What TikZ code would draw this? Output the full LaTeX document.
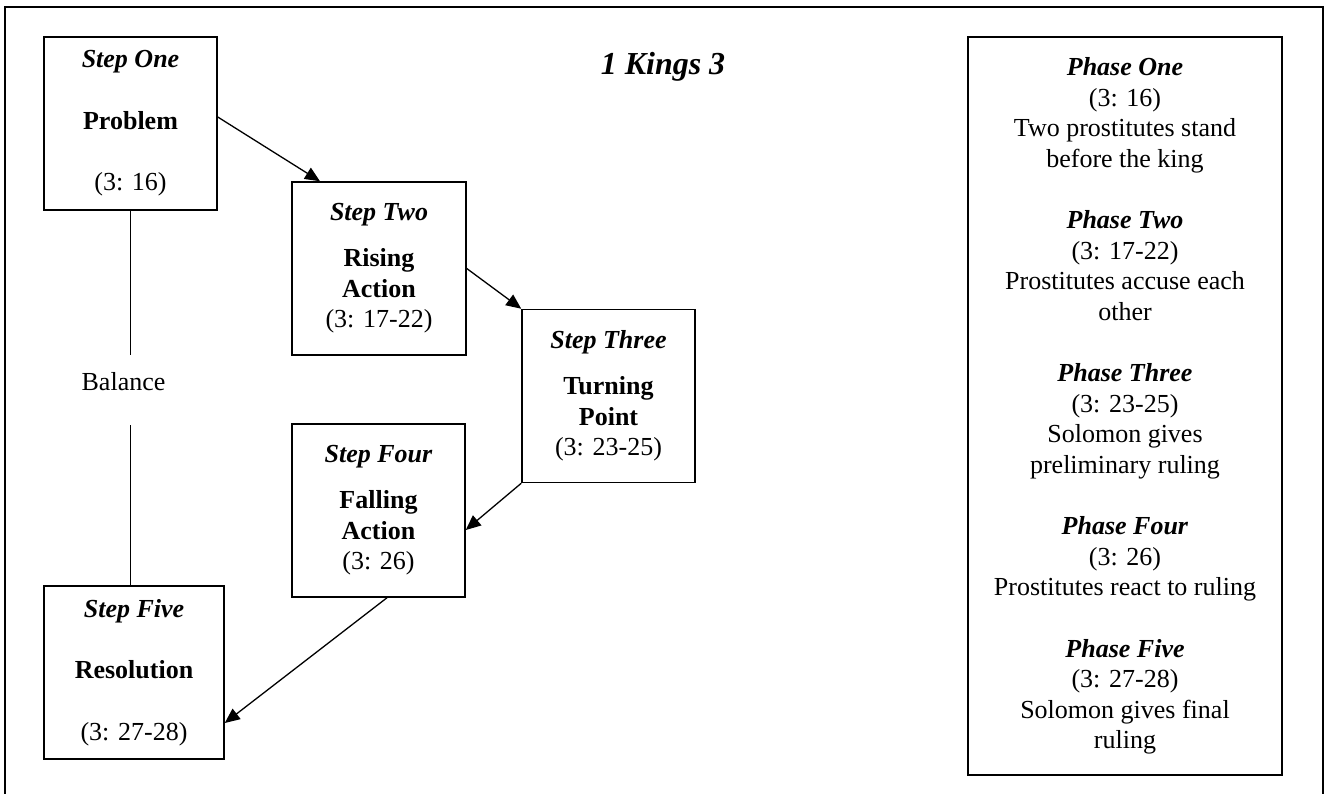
\documentclass[tikz,border=0pt]{standalone}
\usepackage{fontspec}
\setmainfont{Liberation Serif}
\usetikzlibrary{arrows.meta}
\tikzset{
  stepbox/.style={draw, line width=1.5pt, inner sep=0pt, minimum width=173pt, minimum height=173pt, align=center, font=\fontsize{26}{30.6}\selectfont},
  phasebox/.style={draw, line width=1.5pt, inner sep=0pt, minimum width=314pt, minimum height=738pt, align=center, font=\fontsize{26}{30.6}\selectfont},
  plain/.style={inner sep=0pt, font=\fontsize{26}{30.6}\selectfont},
  flow/.style={line width=1.3pt, -{Triangle[length=15pt,width=13pt]}},
  link/.style={line width=1.3pt},
  frame/.style={line width=1.3pt}
}
\newcommand{\sh}[1]{\textbf{\textit{#1}}}
\begin{document}
\begin{tikzpicture}[x=1pt,y=-1pt]
\useasboundingbox (0,0) rectangle (1328,794);
\draw[frame] (5,800) -- (5,7) -- (1323,7) -- (1323,800);
\node[plain, font=\fontsize{32}{36}\selectfont\bfseries\itshape] (title) at (663,67) {1 Kings 3};
\node[stepbox] (s1) at (130.5,123.5) {\sh{Step One}\\[30.6pt]\textbf{Problem}\\[31pt](3: 16)};
\node[stepbox, minimum width=174pt] (s2) at (379,268.5) {\sh{Step Two}\\[15pt]\textbf{Rising}\\\textbf{Action}\\(3: 17-22)};
\node[stepbox] (s3) at (608.5,396) {\sh{Step Three}\\[15pt]\textbf{Turning}\\\textbf{Point}\\(3: 23-25)};
\node[stepbox] (s4) at (378.5,510.5) {\sh{Step Four}\\[15pt]\textbf{Falling}\\\textbf{Action}\\(3: 26)};
\node[stepbox, minimum width=180pt] (s5) at (134,672.5) {\sh{Step Five}\\[30.6pt]\textbf{Resolution}\\[31pt](3: 27-28)};
\node[plain] (bal) at (123.5,382) {Balance};
\coordinate (b1) at (129,355);
\coordinate (b2) at (129,425);
\node[phasebox] (ph) at (1125,406) {\sh{Phase One}\\(3: 16)\\Two prostitutes stand\\before the king\\[30.6pt]
\sh{Phase Two}\\(3: 17-22)\\Prostitutes accuse each\\other\\[30.6pt]
\sh{Phase Three}\\(3: 23-25)\\Solomon gives\\preliminary ruling\\[30.6pt]
\sh{Phase Four}\\(3: 26)\\Prostitutes react to ruling\\[30.6pt]
\sh{Phase Five}\\(3: 27-28)\\Solomon gives final\\ruling};
\draw[flow] ([yshift=6.5pt]s1.east) -- ([xshift=-59pt]s2.north);
\draw[flow] (s2.east) -- (s3.north west);
\draw[flow] (s3.south west) -- ([yshift=-19.5pt]s4.east);
\draw[flow] ([xshift=8.5pt]s4.south) -- ([yshift=-50.5pt]s5.east);
\draw[link] (s1.south) -- (s1.south |- b1);
\draw[link] (s1.south |- b2) -- (s1.south |- s5.north);
\end{tikzpicture}
\end{document}
